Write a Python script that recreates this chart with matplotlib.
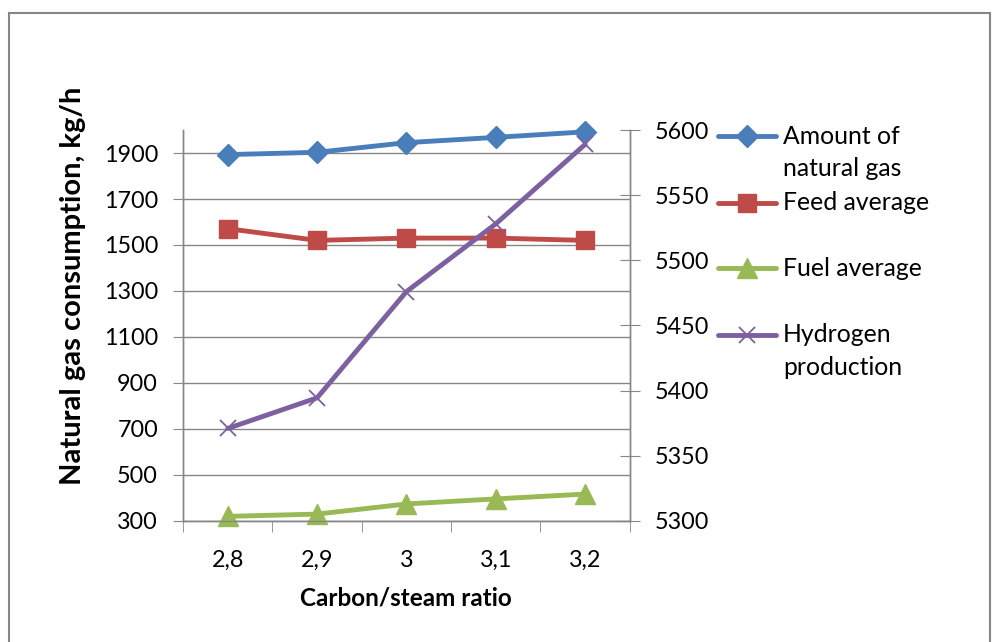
import matplotlib
matplotlib.use("Agg")
import matplotlib.pyplot as plt
from matplotlib.lines import Line2D
from matplotlib.patches import Rectangle

plt.rcParams['font.family'] = ['Lato', 'DejaVu Sans']

ratios = ['2,8', '2,9', '3', '3,1', '3,2']
natural_gas = [1893, 1903, 1945, 1968, 1992]
feed_avg = [1571, 1520, 1530, 1530, 1520]
fuel_avg = [320, 330, 374, 396, 417]
hydrogen = [5371, 5394.5, 5476, 5528, 5589]

left_ticks = list(range(300, 2000, 200))
right_ticks = list(range(5300, 5601, 50))

grey = '#868686'
fs = 16.8

fig = plt.figure(figsize=(9.95, 6.42), dpi=100)
ax = fig.add_axes([0.184, 0.1885, 0.449, 0.609])
ax2 = ax.twinx()

x = list(range(len(ratios)))
series = [
    (ax, natural_gas, '#4A7EBB', 'D', 11, "Amount of\nnatural gas"),
    (ax, feed_avg, '#BE4B48', 's', 13, "Feed average"),
    (ax, fuel_avg, '#98B954', '^', 14, "Fuel average"),
    (ax2, hydrogen, '#7D60A0', 'x', 12, "Hydrogen\nproduction"),
]
for a, vals, col, mk, ms, lab in series:
    if mk == 'x':
        a.plot(x, vals, color=col, lw=3.5, marker=mk, ms=ms, mew=1.3,
               solid_capstyle='round', clip_on=False, zorder=3)
    else:
        a.plot(x, vals, color=col, lw=3.5, marker=mk, ms=ms, mec=col,
               solid_capstyle='round', clip_on=False, zorder=3)

ax.set_xlim(-0.5, 4.5)
ax.set_ylim(300, 2000)
ax2.set_ylim(5300, 5600)
ax.set_yticks(left_ticks)
ax2.set_yticks(right_ticks)
ax.set_xticks(x)
ax.set_xticklabels(ratios)
ax.set_xticks([i - 0.5 for i in range(len(ratios) + 1)], minor=True)
ax.tick_params(axis='x', which='major', length=0, pad=21, labelsize=fs)
ax.tick_params(axis='x', which='minor', length=8, color=grey, direction='out')
ax.tick_params(axis='y', length=7, color=grey, pad=11, labelsize=fs)
ax2.tick_params(axis='y', length=14, color=grey, direction='inout', pad=11, labelsize=fs)

ax.grid(axis='y', color=grey, lw=1)
ax.set_axisbelow(True)
for a in (ax, ax2):
    a.spines['top'].set_visible(False)
    for s in ('left', 'right', 'bottom'):
        a.spines[s].set_color(grey)
        a.spines[s].set_linewidth(1)

W, H = 995, 642
fig.text(406 / W, 1 - 598 / H, 'Carbon/steam ratio', fontsize=17.5,
         fontweight='bold', ha='center', va='center')
fig.text(73 / W, 1 - 286 / H, 'Natural gas consumption, kg/h', fontsize=21,
         fontweight='bold', ha='center', va='center', rotation=90)

# legend drawn by hand to match the Excel layout
legend_y = [136, 203, 268, 335]
for (a, vals, col, mk, ms, lab), yp in zip(series, legend_y):
    fy = 1 - yp / H
    fig.add_artist(Line2D([718 / W, 776 / W], [fy, fy], color=col, lw=3.5,
                          solid_capstyle='round', transform=fig.transFigure))
    if mk == 'x':
        fig.add_artist(Line2D([747 / W], [fy], color=col, marker=mk, ms=ms, mew=1.3,
                              transform=fig.transFigure))
    else:
        fig.add_artist(Line2D([747 / W], [fy], color=col, marker=mk, ms=ms, mec=col,
                              transform=fig.transFigure))
    for i, line in enumerate(lab.split('\n')):
        fig.text(783 / W, 1 - (yp + 33 * i) / H, line, fontsize=17.8, va='center', ha='left')

fig.add_artist(Rectangle((9 / W, -0.05), 981 / W, 1.05 - 13 / H, fill=False,
                         edgecolor=grey, lw=1.5, transform=fig.transFigure))

fig.savefig('out.png', dpi=100)
